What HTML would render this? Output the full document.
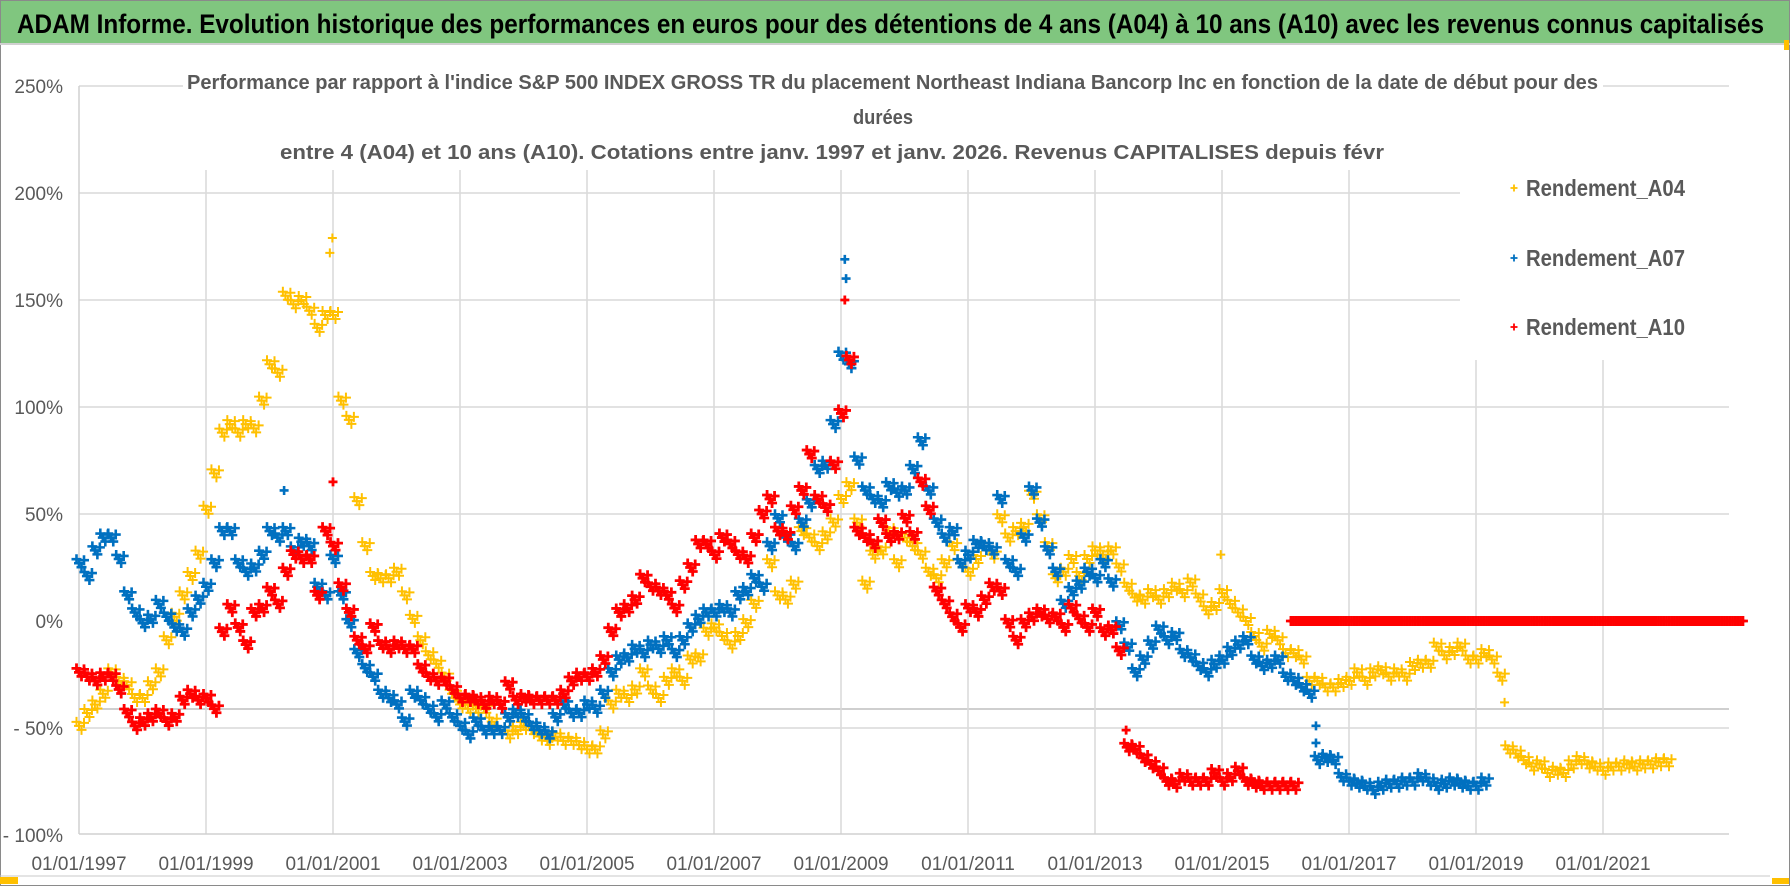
<!DOCTYPE html>
<html><head><meta charset="utf-8"><style>
html,body{margin:0;padding:0;background:#fff;}
svg{display:block;}
text{font-family:"Liberation Sans Narrow","Liberation Sans",sans-serif;}
</style></head><body>
<svg id="chart" width="1790" height="886" viewBox="0 0 1790 886" xmlns="http://www.w3.org/2000/svg">
  <rect x="0" y="0" width="1790" height="886" fill="#fff"/>
  <rect x="0.5" y="0.5" width="1789" height="885" fill="none" stroke="#8a8a8a"/>
  <rect x="1" y="1" width="1788" height="42" fill="#80c67f"/>
  <line x1="0" y1="44" x2="1790" y2="44" stroke="#d0d0d0" stroke-width="2"/>
  <text x="17" y="33" font-size="27" font-weight="bold" fill="#000" textLength="1747" lengthAdjust="spacingAndGlyphs">ADAM Informe. Evolution historique des performances en euros pour des détentions de 4 ans (A04) à 10 ans (A10) avec les revenus connus capitalisés</text>
  <g id="grid"></g>
  <rect x="183" y="62" width="1420" height="106" fill="#fff"/>
  <rect x="1460" y="168" width="275" height="192" fill="#fff"/>
  <text x="187" y="89" font-size="20" font-weight="bold" fill="#595959" textLength="1411" lengthAdjust="spacingAndGlyphs">Performance par rapport à l'indice S&amp;P 500 INDEX GROSS TR  du placement Northeast Indiana Bancorp Inc en fonction de la date de début pour des</text>
  <text x="853" y="124" font-size="20" font-weight="bold" fill="#595959" textLength="60" lengthAdjust="spacingAndGlyphs">durées</text>
  <text x="280" y="159" font-size="20" font-weight="bold" fill="#595959" textLength="1104" lengthAdjust="spacingAndGlyphs">entre 4 (A04) et 10 ans (A10). Cotations entre janv. 1997 et janv. 2026. Revenus CAPITALISES depuis févr</text>
  <g id="axes"></g>
  <g id="marks"></g>
  <g id="legend"></g>
  <rect x="0" y="877" width="18" height="7" fill="#ffc000"/>
  <rect x="1784" y="40" width="5" height="10" fill="#ffc000"/>
  <rect x="1772" y="878" width="17" height="6" fill="#ffc000"/>
  <line x1="0" y1="876" x2="1770" y2="876" stroke="#c8c8c8"/>
</svg>
<script>
// ---- data ----
const yTicks = [250, 200, 150, 100, 50, 0, -50, -100];
const yTickLabels = ["250%", "200%", "150%", "100%", "50%", "0%", "- 50%", "- 100%"];
const xTickYears = [1997, 1999, 2001, 2003, 2005, 2007, 2009, 2011, 2013, 2015, 2017, 2019, 2021];
const xTickLabels = ["01/01/1997","01/01/1999","01/01/2001","01/01/2003","01/01/2005","01/01/2007","01/01/2009","01/01/2011","01/01/2013","01/01/2015","01/01/2017","01/01/2019","01/01/2021"];
const seriesNames = ["Rendement_A04", "Rendement_A07", "Rendement_A10"];
const sampleStep = 0.125;

const a04SegStarts = [1997, 2019.5];
const a04Seg1 = [-49,-43,-39,-34,-24,-28,-30,-36,-36,-30,-24,-9,2,12,21,31,52,69,88,92,88,92,90,103,120,116,152,148,150,145,137,143,143,103,94,56,35,21,20,20,23,12,1,-9,-16,-20,-26,-34,-39,-41,-41,-41,-47,-51,-53,-51,-49,-51,-54,-56,-54,-56,-56,-58,-60,
 -60,-53,-39,-34,-36,-32,-24,-32,-36,-28,-24,-28,-18,-17,-5,-3,-7,-11,-7,-1,8,16,27,12,10,17,42,39,35,40,46,57,63,46,17,31,33,42,27,39,35,31,23,20,27,35,27,23,29,35,31,48,39,42,44,59,48,35,20,23,29,21,29,33,31,
 33,25,16,11,10,13,10,13,16,13,18,11,5,7,13,8,4,0,-7,-12,-6,-9,-15,-15,-18,-28,-28,-31,-31,-29,-28,-24,-28,-24,-23,-26,-24,-26,-21,-20,-20,-12,-16,-14,-12,-18,-18,-15,-18,-26];
const a04Seg2 = [-60,-62,-65,-68,-67,-71,-70,-71,-67,-65,-67,-68,-70,-68,-68,-67,-68,-67,-67,-66,-66];
const a04OutlierYears = [2000.99, 2000.95, 2014.98, 2019.45];
const a04OutlierValues = [179, 172, 31, -38];

const a07SegStarts = [1997, 2016.5];
const a07Seg1 = [27,21,33,39,39,29,12,4,-1,1,8,2,-3,-5,4,10,16,27,42,42,27,23,25,31,42,39,42,33,37,35,16,12,29,12,-1,-15,-22,-26,-34,-36,-39,-47,-34,-37,-41,-45,-39,-45,-49,-53,-47,-51,-51,-51,-45,-43,-45,-49,-51,-53,-45,-39,-43,-43,-39,
 -41,-34,-24,-18,-17,-13,-15,-11,-13,-9,-15,-9,-3,1,4,4,6,4,12,14,20,16,35,48,39,35,46,55,71,73,92,124,120,75,61,57,55,63,60,61,71,84,61,46,39,42,27,31,36,35,33,57,27,23,39,61,46,33,23,8,14,17,23,20,27,
 18,-2,-12,-24,-18,-11,-4,-9,-7,-15,-17,-21,-24,-20,-18,-14,-11,-9,-18,-21,-20,-18,-26,-28,-31,-34];
const a07Seg2 = [-65,-64,-65,-73,-75,-76,-77,-79,-77,-76,-76,-75,-75,-73,-75,-77,-76,-75,-76,-77,-77,-75];
const a07OutlierYears = [2009.06, 2009.08, 2000.23, 2016.48, 2016.48];
const a07OutlierValues = [169, 160, 61, -49, -57];

const a10SegStarts = [1997, 1999.25, 2013.5, 2016.125];
const a10Seg1 = [-24,-26,-28,-26,-26,-32,-43,-49,-47,-45,-43,-47,-45,-37,-34,-37,-36,-41];
const a10Seg2 = [-5,6,-3,-11,4,6,14,8,23,31,29,29,12,42,35,16,4,-9,-13,-3,-11,-13,-11,-13,-13,-22,-26,-28,-28,-32,-36,-36,-37,-39,-37,-39,-30,-37,-36,-37,-37,-37,-37,-34,-28,-26,-26,
 -24,-18,-5,4,6,10,20,16,14,12,6,17,25,36,36,31,39,36,31,29,39,50,57,42,40,52,61,78,57,53,73,97,122,42,39,36,46,39,40,48,40,65,52,14,8,2,-3,6,4,10,16,14,-1,-9,-1,2,4,1,2,-3,6,1,-3,4,-5,
 -4,-14];
const a10Seg3 = [-59,-60,-64,-67,-70,-75,-76,-73,-75,-75,-75,-71,-75,-73,-70,-75,-76,-77,-77,-77,-77,-77];
const a10Seg4 = [0,0,0,0,0,0,0,0,0,0,0,0,0,0,0,0,0,0,0,0,0,0,0,0,0,0,0,0,0,0,0,0,0,0,0,0,0,0,0,0,0,0,0,0,0,0,0,0,0,0,0,0,0,0,0,0,0];
const a10OutlierYears = [2009.06, 2001.0, 2013.49];
const a10OutlierValues = [150, 65, -51];

// ---- scales ----
const X0 = 79, PX_PER_YEAR = 63.5, Y0 = 621, PX_PER_PCT = 2.14;
const PLOT_RIGHT = 1729, PLOT_BOTTOM = 834;
function xScale(yr){ return X0 + (yr - 1997) * PX_PER_YEAR; }
function yScale(v){ return Y0 - v * PX_PER_PCT; }

const NS = "http://www.w3.org/2000/svg";
function mk(tag, attrs, parent){
  const el = document.createElementNS(NS, tag);
  for (const k in attrs) el.setAttribute(k, attrs[k]);
  parent.appendChild(el);
  return el;
}
const grid = document.getElementById('grid');
const axes = document.getElementById('axes');
const marks = document.getElementById('marks');
const legend = document.getElementById('legend');

yTicks.forEach(function(t){
  if (t === 0 || t === -100) return;
  const yy = yScale(t);
  const ln = mk('line', {x1: X0, x2: PLOT_RIGHT, y1: yy, y2: yy, stroke: '#d9d9d9', 'stroke-width': 1.5}, grid);
  
  
});
const extra = mk('line', {x1: X0, x2: PLOT_RIGHT, y1: 709, y2: 709, stroke: '#bfbfbf', 'stroke-width': 1.5}, grid);


xTickYears.forEach(function(yr, i){
  if (i === 0) return;
  const xx = xScale(yr);
  const ln = mk('line', {x1: xx, x2: xx, y1: 170, y2: PLOT_BOTTOM, stroke: '#d9d9d9', 'stroke-width': 1.5}, grid);
  
  
});
const yAxis = mk('line', {x1: X0, x2: X0, y1: yScale(250), y2: PLOT_BOTTOM, stroke: '#d0d0d0', 'stroke-width': 1.5}, axes);


const xAxis = mk('line', {x1: X0, x2: PLOT_RIGHT, y1: PLOT_BOTTOM, y2: PLOT_BOTTOM, stroke: '#d0d0d0', 'stroke-width': 1.5}, axes);



yTicks.forEach(function(t, i){
  const tx = mk('text', {x: 63, y: yScale(t) + 7, 'font-size': 19, fill: '#595959', 'text-anchor': 'end'}, axes);
  tx.textContent = yTickLabels[i];
  
  
});
xTickYears.forEach(function(yr, i){
  const tx = mk('text', {x: xScale(yr), y: 870, 'font-size': 19, fill: '#595959', 'text-anchor': 'middle'}, axes);
  tx.textContent = xTickLabels[i];
  
  
});

function plus(x, y, color, size, sw, parent){
  const h = size / 2;
  return mk('path', {d: 'M' + (x - h) + ' ' + y + 'H' + (x + h) + 'M' + x + ' ' + (y - h) + 'V' + (y + h), stroke: color, 'stroke-width': sw, fill: 'none'}, parent);
}
// rendering offsets that thicken each reading into a small cluster (style only)
const clusterDx = [0, 2.5, 5, -2.5];
const clusterDy = [0, 4, -3, -4];
function drawSeries(name, color, segStarts, segs, oy, ov, sw, flat){
  const g = mk('g', {}, marks);
  
  
  segs.forEach(function(vals, si){
    const isFlat = flat && si === segs.length - 1;
    vals.forEach(function(v, i){
      const yr = segStarts[si] + i * sampleStep;
      const cx = xScale(yr), cy = yScale(v);
      for (let k = 0; k < clusterDx.length; k++){
        const p = plus(cx + clusterDx[k], cy + (isFlat ? 0 : clusterDy[k]), color, 10, sw, g);
        
        
      }
    });
  });
  oy.forEach(function(yr, i){
    const p = plus(xScale(yr), yScale(ov[i]), color, 9, sw, g);
    
    
  });
}
drawSeries('a04', '#ffc000', a04SegStarts, [a04Seg1, a04Seg2], a04OutlierYears, a04OutlierValues, 2, false);
drawSeries('a07', '#0070c0', a07SegStarts, [a07Seg1, a07Seg2], a07OutlierYears, a07OutlierValues, 2.6, false);
drawSeries('a10', '#ff0000', a10SegStarts, [a10Seg1, a10Seg2, a10Seg3, a10Seg4], a10OutlierYears, a10OutlierValues, 2.8, true);

const legColors = ['#ffc000', '#0070c0', '#ff0000'];
const legY = [188, 258, 327];
seriesNames.forEach(function(n, i){
  const m = plus(1514, legY[i], legColors[i], 7, 1.8, legend);
  
  
  const t = mk('text', {x: 1526, y: legY[i] + 8, 'font-size': 23, 'font-weight': 'bold', fill: '#595959', textLength: 159, lengthAdjust: 'spacingAndGlyphs'}, legend);
  t.textContent = n;
  
  
});
</script>
</body></html>
